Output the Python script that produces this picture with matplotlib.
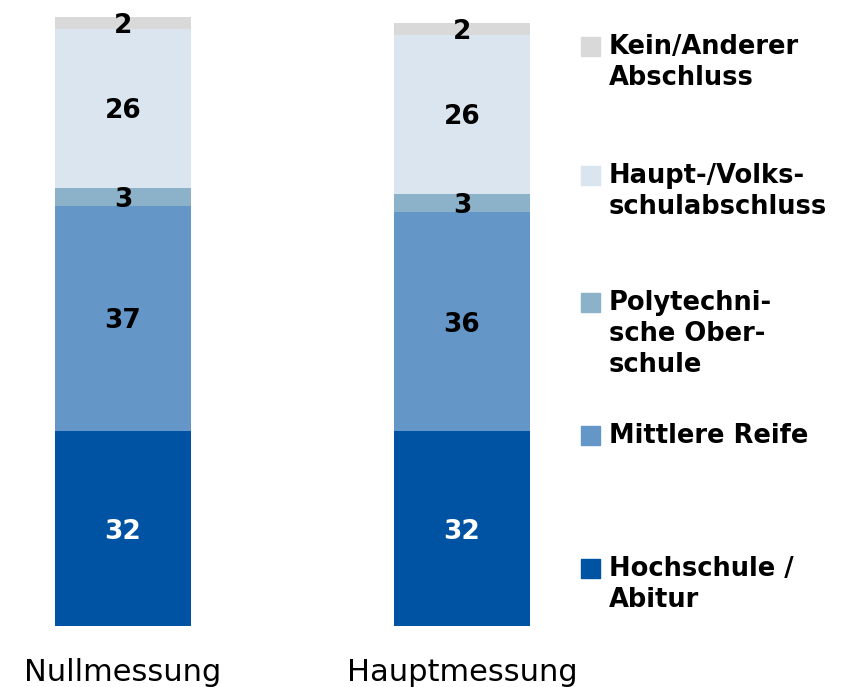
import matplotlib
matplotlib.use("Agg")
import matplotlib.pyplot as plt
from matplotlib.patches import Rectangle

categories = ["Nullmessung", "Hauptmessung"]
series_names = ["Hochschule /\nAbitur", "Mittlere Reife", "Polytechni-\nsche Ober-\nschule",
                "Haupt-/Volks-\nschulabschluss", "Kein/Anderer\nAbschluss"]
values = {
    "Hochschule": [32, 32],
    "Mittlere": [37, 36],
    "Poly": [3, 3],
    "Haupt": [26, 26],
    "Kein": [2, 2],
}
colors = ["#0052A3", "#6596C8", "#8CB2C9", "#DAE5F0", "#D9D9D9"]
label_colors = ["white", "black", "black", "black", "black"]

W, H = 848, 687
fig = plt.figure(figsize=(W / 100, H / 100), dpi=100)
ax = fig.add_axes([0, (H - 626) / H, 560 / W, 609 / H])
ax.set_xlim(-123 / 339, 1 + (560 - 462) / 339)
ax.set_ylim(0, 100)
ax.axis("off")

x = [0, 1]
bottom = [0, 0]
for i, key in enumerate(values):
    vals = values[key]
    ax.bar(x, vals, width=0.40, bottom=bottom, color=colors[i], edgecolor="none")
    for j, v in enumerate(vals):
        ax.text(x[j], bottom[j] + v / 2, str(v), ha="center", va="center_baseline",
                fontsize=19, fontweight="bold", color=label_colors[i])
    bottom = [b + v for b, v in zip(bottom, vals)]

for j, c in enumerate(categories):
    ax.text(x[j], -9.0, c, ha="center", va="baseline", fontsize=22, color="black")

# legend (manual), top of square in pixels
legend_tops = [559, 426, 293, 166, 37]
for i in range(len(series_names)):
    top = legend_tops[i]
    fig.patches.append(Rectangle((581 / W, 1 - (top + 19) / H), 19 / W, 19 / H,
                                 transform=fig.transFigure, color=colors[i]))
    fig.text(609 / W, 1 - (top - 3) / H, series_names[i], ha="left", va="top",
             fontsize=18.5, fontweight="bold", linespacing=1.25)

fig.savefig("out.png", dpi=100)
